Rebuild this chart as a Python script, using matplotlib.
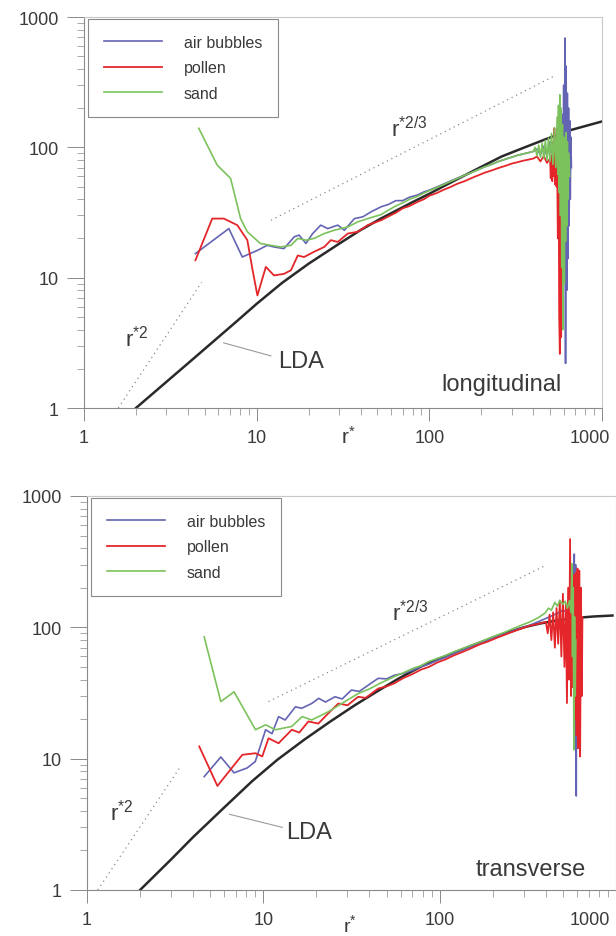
import matplotlib
matplotlib.use("Agg")
import matplotlib.pyplot as plt
import matplotlib.transforms as mtransforms
from matplotlib.ticker import LogLocator, NullFormatter, FixedLocator, FixedFormatter

plt.rcParams['font.family'] = ['Liberation Sans', 'DejaVu Sans']
plt.rcParams['mathtext.fontset'] = 'custom'
plt.rcParams['mathtext.rm'] = 'Liberation Sans'
plt.rcParams['mathtext.it'] = 'Liberation Sans'
plt.rcParams['mathtext.bf'] = 'Liberation Sans'

# ---------------- data: longitudinal (top) ----------------
top_blue_r = [4.42, 6.9, 8.26, 10.1, 11.5, 12.6, 14.4, 16.5, 17.6, 19.3, 21.1, 23.5, 25.8, 29.5, 32.2,
              36.8, 41.2, 46.0, 52.6, 58, 64, 70, 77, 85, 93, 100, 110, 120, 132, 145, 160, 175, 192,
              210, 230, 252, 275, 300, 325, 350, 375, 400, 420, 440, 460, 480, 500, 520, 540, 555, 565,
              575, 585, 595, 600, 605, 610, 615, 620, 625, 630, 635, 640, 645, 650, 655, 660, 665]
top_blue_v = [15.3, 23.8, 14.4, 16.2, 17.7, 17.2, 16.7, 20.6, 21.2, 18.3, 21.8, 25.3, 23.8, 25.3, 23.1,
              28.4, 29.3, 32.0, 35.0, 36.5, 39, 39, 41.5, 43, 45.5, 47, 49.5, 52, 55, 58, 61, 64, 67.5,
              71, 74, 78, 81, 84, 87, 89, 91, 93, 97, 88, 102, 86, 110, 84, 120, 80, 140,
              70, 180, 40, 300, 10, 690, 2.2, 420, 8, 260, 14, 200, 25, 160, 40, 120, 70]

top_green_r = [4.62, 5.91, 7.06, 7.55, 8.07, 8.83, 10.5, 12.1, 13.8, 15.8, 17.3, 19.3, 21.5, 24.6, 28.1,
               33.7, 38.5, 44.0, 52.6, 58, 64, 70, 77, 85, 93, 100, 110, 120, 132, 145, 160, 175, 192,
               210, 230, 252, 275, 300, 325, 350, 375, 400, 410, 420, 430, 440, 450, 460, 470, 480, 490,
               500, 510, 520, 530, 540, 550, 555, 560, 565, 570, 575, 580, 585, 590, 595, 600, 605,
               610, 615, 620, 625, 630, 635, 640, 650]
top_green_v = [140, 73, 57.8, 40.5, 28.4, 22.5, 18.3, 17.7, 17.2, 17.7, 20, 19.4, 20, 21.8, 23.1,
               24.5, 26.8, 28.4, 30.5, 33, 35.5, 37.5, 40, 42, 44.5, 46.5, 49, 51.5, 54.5, 57.5, 61, 64, 67.5,
               71, 74, 78, 81, 84, 87, 89, 91, 93, 100, 86, 104, 84, 108, 82, 113, 80, 118,
               78, 128, 74, 142, 70, 170, 62, 210, 45, 253, 30, 200, 12, 150, 4, 120, 9,
               100, 19, 130, 25, 110, 40, 90, 60]

top_red_r = [4.42, 5.53, 6.45, 7.72, 8.83, 9.44, 10.1, 11.3, 12.6, 14.4, 15.8, 17.3, 18.8, 21.5, 24.6,
             26.9, 29.5, 33.7, 38.5, 44.0, 52.6, 58, 64, 70, 77, 85, 93, 100, 110, 120, 132, 145, 160,
             175, 192, 210, 230, 252, 275, 300, 325, 350, 375, 400, 420, 440, 460, 480, 500, 505, 510,
             515, 520, 525, 530, 535, 540, 545, 550, 555, 560, 565, 570, 575, 580, 585, 590]
top_red_v = [13.6, 28.4, 28.4, 25.3, 19.4, 11.7, 7.3, 12.1, 10.4, 10.7, 11.4, 14.8, 14.4, 15.8, 17.2,
             19.4, 18.8, 21.8, 22.5, 25.3, 27.6, 29.5, 31.5, 34, 35.5, 38, 40, 42.5, 44.5, 47, 49.5, 52.5, 55,
             58, 61, 64, 66.5, 69.5, 72, 75, 77, 79, 80.5, 82, 85, 78, 86, 76, 82, 58, 86,
             55, 110, 60, 140, 52, 95, 50, 70, 20, 150, 5, 2.6, 60, 3.5, 40, 20]

top_lda_r = [2, 4, 7.7, 10, 14, 20, 30, 40, 52.6, 80, 100, 120, 180, 262, 350, 468, 650, 1000]
top_lda_v = [1, 2.2, 4.65, 6.3, 9.1, 12.8, 18.2, 23.2, 28.5, 38, 44, 50, 66, 85, 99, 115, 135, 158]

top_r2_r = [1.58, 4.8]
top_r2_v = [1.0, 9.2]
top_r23_r = [12.1, 523]
top_r23_v = [27.6, 350]

# ---------------- data: transverse (bottom) ----------------
bot_blue_r = [4.62, 5.74, 6.82, 8.1, 9.0, 10.3, 11.2, 12.2, 13.3, 15.2, 16.5, 18.8, 20.6, 22.5, 25.5,
              28, 31.6, 35, 39, 44.8, 50, 55.4, 62, 70, 78, 87, 97, 108, 120, 135, 150, 168, 188, 210,
              235, 262, 292, 325, 360, 395, 430, 465, 500, 530, 555, 570, 580, 585, 590, 595, 600,
              605, 610, 615]
bot_blue_v = [7.3, 10.3, 7.8, 8.5, 9.5, 16.6, 15.5, 20.9, 19.7, 24.8, 24.2, 26.3, 28.8, 27, 29.6,
              28.5, 33.3, 32.5, 36, 40.9, 40.5, 43.2, 44.5, 47, 50, 52.5, 56, 59, 63, 67, 71, 75, 80, 85,
              89, 94, 99, 104, 110, 116, 122, 128, 135, 130, 140, 120, 361, 20, 300, 5.2, 250,
              12, 150, 40]

bot_green_r = [4.62, 5.74, 6.82, 9.03, 10.3, 11.7, 14.5, 16.6, 18.8, 23.4, 29, 34.5, 40, 46, 55, 62,
               70, 78, 87, 97, 108, 120, 135, 150, 168, 188, 210, 235, 262, 292, 325, 360, 395, 415,
               430, 450, 465, 480, 500, 515, 530, 545, 555, 562, 567, 572, 577, 582, 587, 592]
bot_green_v = [84.5, 27.2, 32.3, 16.6, 18.1, 16.6, 17.6, 20.9, 19.7, 22.8, 27.2, 31.3, 34, 37.5, 42, 45,
               48.5, 51, 55, 58, 61, 65, 69, 73, 77, 82, 87, 92, 98, 104, 110, 118, 128, 140,
               135, 155, 145, 160, 150, 158, 140, 160, 130, 305, 60, 200, 11.7, 120, 30, 80]

bot_red_r = [4.33, 5.49, 7.6, 9.03, 9.86, 10.7, 12.2, 14.5, 16, 18, 20.5, 23.4, 26.6, 30, 34.5, 38,
             44.8, 50, 55.4, 62, 70, 78, 87, 97, 108, 120, 135, 150, 168, 188, 210, 235, 262, 292,
             325, 360, 400, 410, 420, 430, 440, 450, 460, 470, 480, 490, 500, 510, 520, 527, 535,
             542, 549, 556, 563, 570, 577, 584, 591, 598, 605, 612, 619, 626, 633, 640, 645]
bot_red_v = [12.4, 6.2, 10.7, 11.0, 10.4, 14.3, 13.1, 16.6, 15.8, 19.2, 18.5, 22.2, 26.3, 25.5, 29.6, 29,
             34.2, 35.5, 37.5, 41, 44, 47.5, 50, 54, 57, 61, 65, 69, 74, 78, 83, 88, 93, 98,
             103, 106, 110, 90, 125, 80, 130, 70, 140, 75, 160, 60, 180, 50, 150, 26.5, 200,
             40, 470, 30, 300, 35, 250, 20, 260, 15, 280, 12, 270, 10.4, 200, 30, 120]

bot_lda_r = [2, 3, 4, 6, 8.65, 12, 17, 24, 33, 45, 58, 80, 100, 150, 212, 300, 372, 450, 574, 750, 955]
bot_lda_v = [1, 1.71, 2.53, 4.25, 6.75, 9.8, 13.9, 19.2, 25.5, 33, 40.5, 51, 58, 72, 86, 100, 107, 112,
             117.5, 121, 123]

bot_r2_r = [1.15, 3.41]
bot_r2_v = [1.0, 8.8]
bot_r23_r = [10.7, 397]
bot_r23_v = [27.2, 295]

series_labels = ['air bubbles', 'pollen', 'sand']
xtick_vals = [1, 10, 100, 1000]
xtick_labels = ['1', '10', '100', '1000']
ytick_vals = [1, 10, 100, 1000]
ytick_labels = ['1', '10', '100', '1000']

C_BLUE = '#6464b4'
C_RED = '#e4262a'
C_GREEN = '#7cc25c'
C_LDA = '#2a2a2a'
C_GUIDE = '#8a8a8a'
C_TEXT = '#3a3a3a'

fig = plt.figure(figsize=(6.16, 9.37), dpi=100)
W, H = 616.0, 937.0


def make_axes(left, right, top, bottom):
    return fig.add_axes([left / W, 1 - bottom / H, (right - left) / W, (bottom - top) / H])


def style_axes(ax, last_shift_px):
    ax.set_xscale('log')
    ax.set_yscale('log')
    ax.set_xlim(1, 1000)
    ax.set_ylim(1, 1000)
    ax.xaxis.set_major_locator(FixedLocator(xtick_vals))
    ax.xaxis.set_major_formatter(FixedFormatter(xtick_labels))
    ax.yaxis.set_major_locator(FixedLocator(ytick_vals))
    ax.yaxis.set_major_formatter(FixedFormatter(ytick_labels))
    ax.xaxis.set_minor_locator(LogLocator(base=10, subs=range(2, 10), numticks=20))
    ax.yaxis.set_minor_locator(LogLocator(base=10, subs=range(2, 10), numticks=20))
    ax.xaxis.set_minor_formatter(NullFormatter())
    ax.yaxis.set_minor_formatter(NullFormatter())
    ax.tick_params(axis='y', which='major', direction='out', length=12, width=0.7,
                   color='#8a8a8a', labelsize=13, labelcolor=C_TEXT, pad=6)
    ax.tick_params(axis='y', which='minor', direction='out', length=5, width=0.6, color='#9a9a9a')
    ax.tick_params(axis='x', which='major', direction='out', length=9, width=0.7,
                   color='#8a8a8a', labelsize=13, labelcolor=C_TEXT, pad=6)
    ax.tick_params(axis='x', which='minor', direction='out', length=5, width=0.6, color='#9a9a9a')
    for s in ['left', 'bottom']:
        ax.spines[s].set_color('#8a8a8a')
        ax.spines[s].set_linewidth(0.8)
    for s in ['top', 'right']:
        ax.spines[s].set_color('#c8c8c8')
        ax.spines[s].set_linewidth(0.8)
    labels = ax.get_xticklabels()
    off = mtransforms.ScaledTranslation(last_shift_px / 100.0, 0, fig.dpi_scale_trans)
    labels[-1].set_transform(labels[-1].get_transform() + off)


def draw_panel(ax, blue_r, blue_v, red_r, red_v, green_r, green_v, lda_r, lda_v,
               r2_r, r2_v, r23_r, r23_v):
    ax.plot(r2_r, r2_v, color=C_GUIDE, lw=0.9, ls=(0, (1, 3)))
    ax.plot(r23_r, r23_v, color=C_GUIDE, lw=0.9, ls=(0, (1, 3)))
    ax.plot(lda_r, lda_v, color=C_LDA, lw=1.8, zorder=2)
    lb, = ax.plot(blue_r, blue_v, color=C_BLUE, lw=1.2, zorder=3)
    lr, = ax.plot(red_r, red_v, color=C_RED, lw=1.3, zorder=4)
    lg, = ax.plot(green_r, green_v, color=C_GREEN, lw=1.2, zorder=5)
    leg = ax.legend([lb, lr, lg], series_labels, loc='upper left', bbox_to_anchor=(0.008, 0.995),
                    borderaxespad=0, fontsize=11.5, frameon=True, fancybox=False,
                    handlelength=3.6, handletextpad=1.4, labelspacing=0.66, borderpad=1.0,
                    framealpha=1.0)
    leg.get_frame().set_edgecolor('#8a8a8a')
    leg.get_frame().set_linewidth(0.8)
    for t in leg.get_texts():
        t.set_color(C_TEXT)


# ---------------- top panel ----------------
ax1 = make_axes(84, 602, 18, 409)
style_axes(ax1, -12)
draw_panel(ax1, top_blue_r, top_blue_v, top_red_r, top_red_v, top_green_r, top_green_v,
           top_lda_r, top_lda_v, top_r2_r, top_r2_v, top_r23_r, top_r23_v)
ax1.text(1.72, 3.5, r'r$^{*2}$', fontsize=16, color=C_TEXT, ha='left', va='center')
ax1.text(60, 140, r'r$^{*2/3}$', fontsize=16, color=C_TEXT, ha='left', va='center')
ax1.text(13.4, 2.3, 'LDA', fontsize=17, color=C_TEXT, ha='left', va='center')
ax1.plot([6.44, 12.1], [3.16, 2.51], color='#9a9a9a', lw=0.8)
ax1.text(117, 1.53, 'longitudinal', fontsize=17, color=C_TEXT, ha='left', va='center')
fig.text(348 / W, 1 - 437 / H, r'r$^{*}$', fontsize=15, color=C_TEXT, ha='center', va='center')

# ---------------- bottom panel ----------------
ax2 = make_axes(87, 616, 497, 891)
style_axes(ax2, -26)
draw_panel(ax2, bot_blue_r, bot_blue_v, bot_red_r, bot_red_v, bot_green_r, bot_green_v,
           bot_lda_r, bot_lda_v, bot_r2_r, bot_r2_v, bot_r23_r, bot_r23_v)
ax2.text(1.35, 3.97, r'r$^{*2}$', fontsize=16, color=C_TEXT, ha='left', va='center')
ax2.text(53.5, 130, r'r$^{*2/3}$', fontsize=16, color=C_TEXT, ha='left', va='center')
ax2.text(13.5, 2.75, 'LDA', fontsize=17, color=C_TEXT, ha='left', va='center')
ax2.plot([6.43, 12.8], [3.77, 3.0], color='#9a9a9a', lw=0.8)
ax2.text(159, 1.44, 'transverse', fontsize=17, color=C_TEXT, ha='left', va='center')
fig.text(350 / W, 1 - 925 / H, r'r$^{*}$', fontsize=14, color=C_TEXT, ha='center', va='center')

fig.savefig('out.png', dpi=100)
